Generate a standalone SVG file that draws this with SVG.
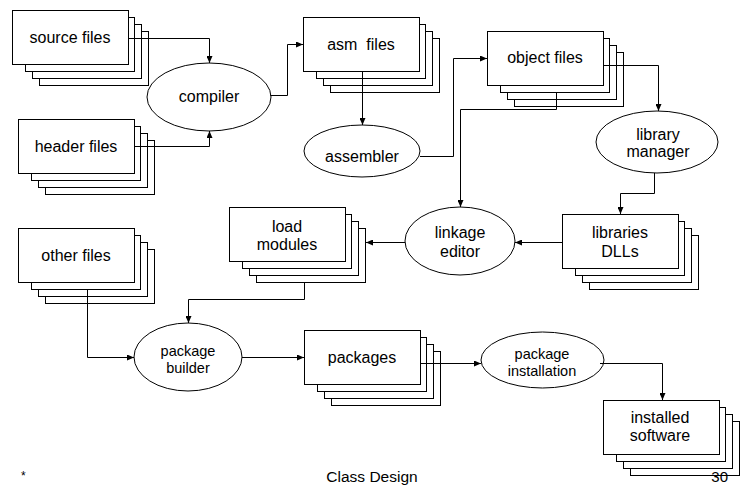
<svg xmlns="http://www.w3.org/2000/svg" xmlns:xlink="http://www.w3.org/1999/xlink" width="746" height="485" viewBox="0 0 746 485">
<style>
  .stk rect { fill: #fff; stroke: #000; stroke-width: 1; }
  .ell { fill: #fff; stroke: #000; stroke-width: 1; }
  .t { font-family: "Liberation Sans", Arial, sans-serif; font-size: 16px; text-anchor: middle; fill: #000; }
  .s { font-size: 14.5px; }
  .f { font-family: "Liberation Sans", Arial, sans-serif; fill: #000; }
  .c { fill: none; stroke: #000; stroke-width: 1; marker-end: url(#arr); }
</style>
<defs>
  <marker id="arr" markerUnits="userSpaceOnUse" markerWidth="7" markerHeight="6" refX="7" refY="3" orient="auto">
    <path d="M0,0 L7,3 L0,6 z" fill="#000"/>
  </marker>
  <g id="stk" class="stk">
    <rect x="27" y="21" width="109" height="54"/>
    <rect x="20" y="14" width="109" height="54"/>
    <rect x="13" y="7" width="109" height="54"/>
    <rect x="0" y="0" width="116" height="54"/>
  </g>
</defs>
<rect width="746" height="485" fill="#fff"/>

<g id="source-files">
  <use xlink:href="#stk" href="#stk" x="12.5" y="10.5"/>
  <text class="t" x="70" y="43">source files</text>
</g>
<g id="header-files">
  <use xlink:href="#stk" href="#stk" x="18.5" y="119.5"/>
  <text class="t" x="76" y="152">header files</text>
</g>
<g id="compiler">
  <ellipse class="ell" cx="209" cy="97" rx="62" ry="34"/>
  <text class="t" x="209" y="102">compiler</text>
</g>
<g id="asm-files">
  <use xlink:href="#stk" href="#stk" x="303.5" y="17.5"/>
  <text class="t" x="361" y="50" xml:space="preserve">asm  files</text>
</g>
<g id="assembler">
  <ellipse class="ell" cx="362" cy="151" rx="58" ry="26"/>
  <text class="t" x="362" y="162">assembler</text>
</g>
<g id="object-files">
  <use xlink:href="#stk" href="#stk" x="487.5" y="31.5"/>
  <text class="t" x="545" y="63">object files</text>
</g>
<g id="library-manager">
  <ellipse class="ell" cx="657" cy="142" rx="61" ry="31"/>
  <text class="t" x="658" y="140">library</text>
  <text class="t" x="658" y="157">manager</text>
</g>
<g id="libraries-dlls">
  <use xlink:href="#stk" href="#stk" x="562.5" y="214.5"/>
  <text class="t" x="620" y="238">libraries</text>
  <text class="t" x="620" y="257">DLLs</text>
</g>
<g id="linkage-editor">
  <ellipse class="ell" cx="460" cy="241" rx="55" ry="34"/>
  <text class="t" x="460" y="238">linkage</text>
  <text class="t" x="460" y="257">editor</text>
</g>
<g id="load-modules">
  <use xlink:href="#stk" href="#stk" x="229.5" y="207.5"/>
  <text class="t" x="287" y="232">load</text>
  <text class="t" x="287" y="250">modules</text>
</g>
<g id="other-files">
  <use xlink:href="#stk" href="#stk" x="18.5" y="228.5"/>
  <text class="t" x="76" y="261">other files</text>
</g>
<g id="package-builder">
  <ellipse class="ell" cx="188" cy="357" rx="54" ry="34"/>
  <text class="t s" x="188" y="356">package</text>
  <text class="t s" x="188" y="373">builder</text>
</g>
<g id="packages">
  <use xlink:href="#stk" href="#stk" x="304.5" y="330.5"/>
  <text class="t" x="362" y="363">packages</text>
</g>
<g id="package-installation">
  <ellipse class="ell" cx="542.5" cy="360" rx="61.5" ry="28"/>
  <text class="t s" x="542" y="359">package</text>
  <text class="t s" x="542" y="376">installation</text>
</g>
<g id="installed-software">
  <use xlink:href="#stk" href="#stk" x="603.5" y="400.5"/>
  <text class="t" x="660" y="423">installed</text>
  <text class="t" x="660" y="441">software</text>
</g>

<g id="connectors">
  <polyline class="c" points="128.5,38.5 209.5,38.5 209.5,63"/>
  <polyline class="c" points="134.5,146.5 209.5,146.5 209.5,131"/>
  <polyline class="c" points="270.5,95.5 287.5,95.5 287.5,44.5 303,44.5"/>
  <polyline class="c" points="362.5,72 362.5,125"/>
  <polyline class="c" points="420,156.5 453.5,156.5 453.5,58.5 487,58.5"/>
  <polyline class="c" points="603.5,65.5 658.5,65.5 658.5,111"/>
  <polyline class="c" points="556.5,92 556.5,109.5 460.5,109.5 460.5,207"/>
  <polyline class="c" points="654.5,173 654.5,193.5 620.5,193.5 620.5,214"/>
  <polyline class="c" points="562,242.5 515,242.5"/>
  <polyline class="c" points="405,242.5 366,242.5"/>
  <polyline class="c" points="304.5,282 304.5,299.5 188.5,299.5 188.5,323"/>
  <polyline class="c" points="87.5,289 87.5,357.5 134,357.5"/>
  <polyline class="c" points="242,357.5 304,357.5"/>
  <polyline class="c" points="420.5,363.5 481,363.5"/>
  <polyline class="c" points="600,363.5 662.5,363.5 662.5,400"/>
</g>

<text class="f" x="21" y="480" font-size="12">*</text>
<text class="f" x="372" y="482" font-size="15.5" text-anchor="middle">Class Design</text>
<text class="f" x="728" y="482" font-size="15" text-anchor="end">30</text>
</svg>
